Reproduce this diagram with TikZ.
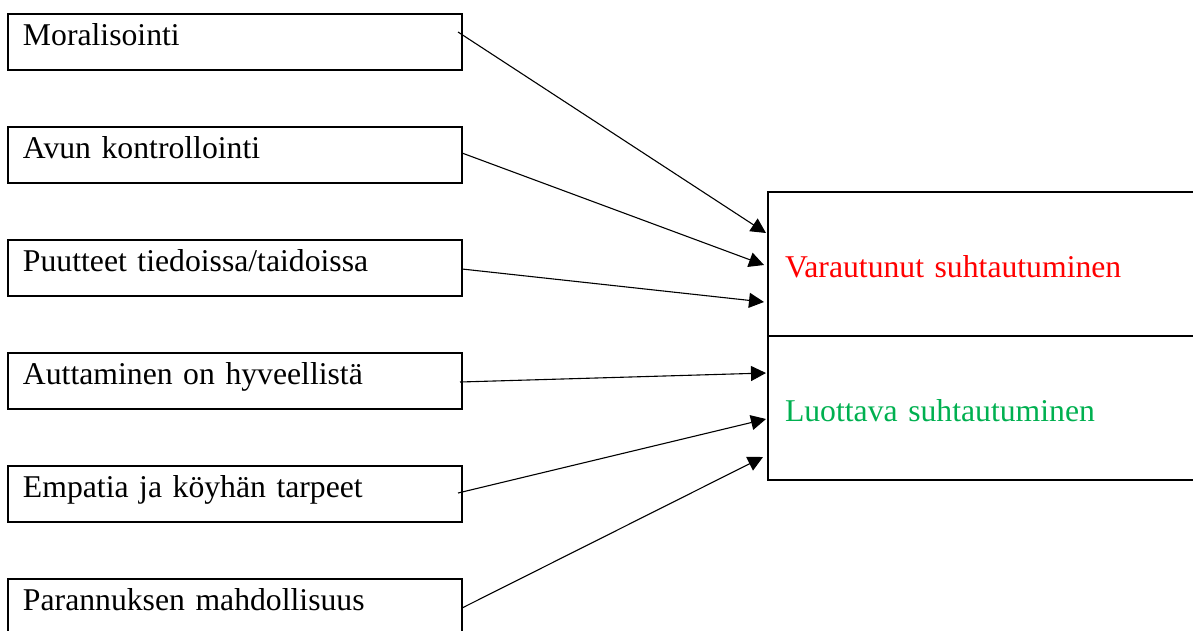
\documentclass[tikz,border=0pt]{standalone}
\usepackage{fontspec}
\setmainfont{Liberation Serif}
\usepackage{tikz}
\usetikzlibrary{positioning, calc, arrows.meta}
\definecolor{vihrea}{RGB}{0,176,80}
\tikzstyle{nuoli} = [line width=1.1pt,-{Triangle[length=15pt,width=15pt]}]

\begin{document}
\begin{tikzpicture}[x=1pt, y=1pt,
every node/.style={font=\fontsize{31.7}{38}\selectfont, outer sep=0pt},
laatikko/.style={draw, line width=2pt, text width=424pt, inner xsep=15pt,
	inner ysep=9pt, text height=22pt, text depth=16pt, align=left},
asenne/.style={draw, line width=2pt, text width=408pt, inner xsep=17pt,
	inner ysep=9pt, text height=76pt, text depth=50pt, align=left},
node distance=57pt
%,scale=0.5
]
\useasboundingbox (0,0) rectangle (1193,-630);
\clip (0,0) rectangle (1193,-630);

\node[laatikko, anchor=north west] (m1) at (8,-14) {Moralisointi};
\node[laatikko, below=of m1] (m2) {Avun kontrollointi};
\node[laatikko, below=of m2] (m3) {Puutteet tiedoissa/taidoissa};
\node[laatikko, below=of m3] (m4) {Auttaminen on hyveellistä};
\node[laatikko, below=of m4] (m5) {Empatia ja köyhän tarpeet};
\node[laatikko, below=of m5] (m6) {Parannuksen mahdollisuus};

\node[asenne, anchor=north west, text=red] (vara) at (768,-192) {Varautunut suhtautuminen};
\node[asenne, below=0pt of vara, text=vihrea] (luot) {Luottava suhtautuminen};

% nuolet
\draw[nuoli] ($(m1.north east)+(-4,-18)$) -- ($(vara.north west)+(-2,-41)$);
\draw[nuoli] ($(m2.north east)+(0,-26)$) -- ($(vara.north west)+(-4,-73)$);
\draw[nuoli] ($(m3.north east)+(0,-29)$) -- ($(vara.north west)+(-4,-110)$);
\draw[nuoli] ($(m4.north east)+(-2,-29)$) -- ($(luot.north west)+(-2,-37)$);
\draw[nuoli] ($(m5.north east)+(-4,-27)$) -- ($(luot.north west)+(-2,-83)$);
\draw[nuoli] ($(m6.north east)+(0,-29)$) -- ($(luot.north west)+(-5,-121)$);
\end{tikzpicture}
\end{document}
